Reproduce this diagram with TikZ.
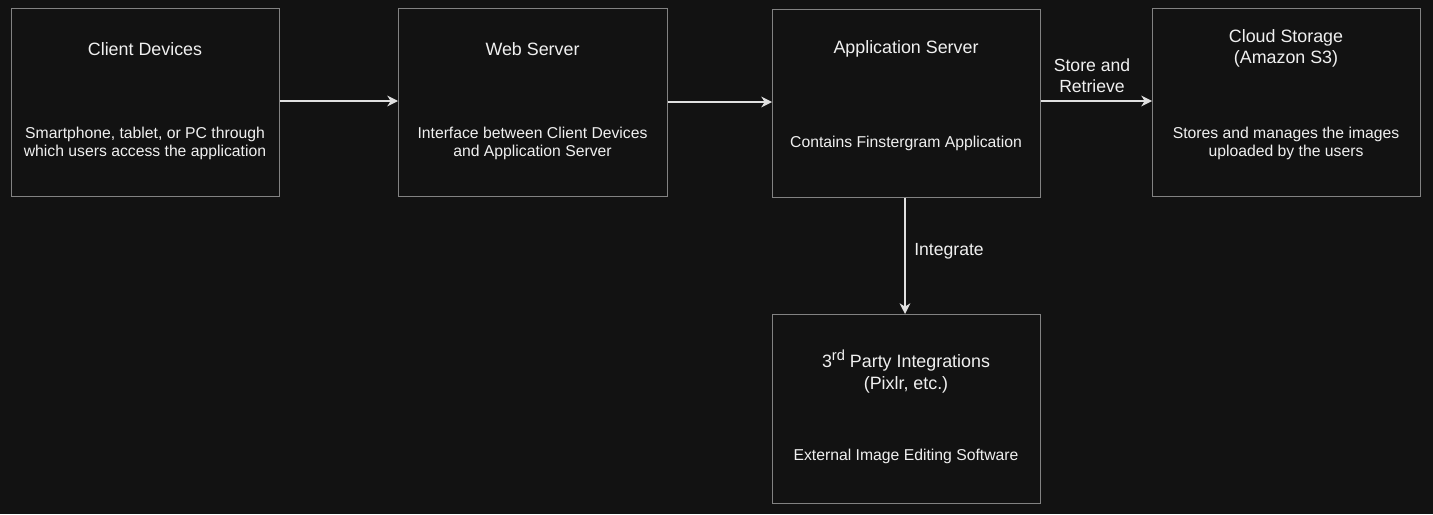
\documentclass[tikz,border=0pt]{standalone}
\usepackage{fontspec}
\setmainfont{Liberation Sans}
\usetikzlibrary{arrows.meta}
\definecolor{bg}{HTML}{121212}
\definecolor{boxline}{HTML}{828282}
\definecolor{txt}{HTML}{F0F0F0}
\definecolor{arr}{HTML}{E0E0E0}
\newcommand{\supr}[1]{\raisebox{0.42em}{\fontsize{11}{11}\selectfont #1}}
\begin{document}
\begin{tikzpicture}[x=0.75pt,y=-0.75pt,
  box/.style={draw=boxline,line width=0.9pt,fill=bg,anchor=north west,inner sep=0pt},
  ttl/.style={text=txt,font=\fontsize{13.4}{16}\selectfont,align=center,inner sep=0pt},
  dsc/.style={text=txt,font=\fontsize{11.8}{13.5}\selectfont,align=center,inner sep=0pt},
  lbl/.style={text=txt,font=\fontsize{13.2}{15.75}\selectfont,align=center,inner sep=0pt},
  conn/.style={draw=arr,line width=1.5pt,-{Stealth[length=8pt,width=8pt,inset=2.5pt]}}]
\fill[bg] (0,0) rectangle (1433,514);
\useasboundingbox (0,0) rectangle (1433,514);
% boxes
\node[box,minimum width=201pt,minimum height=141pt] (client) at (11,8) {};
\node[box,minimum width=201.75pt,minimum height=141pt] (web) at (398,8) {};
\node[box,minimum width=201pt,minimum height=141pt] (app) at (772,8.5) {};
\node[box,minimum width=201pt,minimum height=141pt] (cloud) at (1152,7.5) {};
\node[box,minimum width=201pt,minimum height=141.75pt] (third) at (772,314) {};
% texts
\node[ttl] (clientT) at (145,49) {Client Devices};
\node[dsc] (clientD) at (145,143.5) {Smartphone, tablet, or PC through\\which users access the application};
\node[ttl] (webT) at (532.5,49) {Web Server};
\node[dsc] (webD) at (532.5,143.5) {Interface between Client Devices\\and Application Server};
\node[ttl] (appT) at (906,49) {Application Server};
\node[dsc] (appD) at (906,143.5) {Contains Finstergram Application};
\node[ttl,font=\fontsize{13.4}{15.75}\selectfont] (cloudT) at (1286,48.5) {Cloud Storage\\(Amazon S3)};
\node[dsc] (cloudD) at (1286,143.5) {Stores and manages the images\\uploaded by the users};
\node[ttl,font=\fontsize{13.4}{16.5}\selectfont] (thirdT) at (906,371.5) {3\supr{rd} Party Integrations\\(Pixlr, etc.)};
\node[dsc] (thirdD) at (906,456.5) {External Image Editing Software};
% connectors
\draw[conn] (client.east |- 0,101) -- (web.west |- 0,101);
\draw[conn] (web.east |- 0,102) -- (app.west |- 0,102);
\draw[conn] (app.east |- 0,101) -- (cloud.west |- 0,101);
\draw[conn] (app.south -| 905,0) -- (third.north -| 905,0);
% labels
\node[lbl] (storeL) at (1092,76) {Store and\\Retrieve};
\node[lbl] (intL) at (949,251) {Integrate};
\end{tikzpicture}
\end{document}
